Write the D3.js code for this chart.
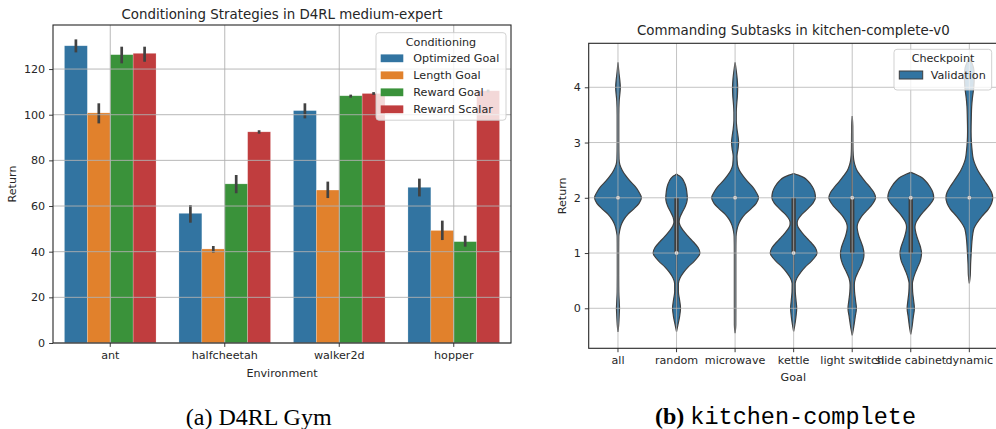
<!DOCTYPE html>
<html>
<head>
<meta charset="utf-8">
<script src="https://cdn.jsdelivr.net/npm/d3@7"></script>
<style>
  html, body { margin: 0; padding: 0; background: #fff; }
  svg { display: block; }
  text { font-family: "DejaVu Sans", sans-serif; fill: #262626; }
</style>
</head>
<body>
<svg id="fig" width="996" height="429"></svg>
<script>
// ---------------- data: panel (a) ----------------
const environments = ["ant", "halfcheetah", "walker2d", "hopper"];
const conditionings = ["Optimized Goal", "Length Goal", "Reward Goal", "Reward Scalar"];
const optimizedGoal     = [130.2, 56.8, 101.8, 68.2];
const optimizedGoalLow  = [127.3, 52.7, 98.4, 64.2];
const optimizedGoalHigh = [133.0, 60.4, 105.0, 72.0];
const lengthGoal        = [100.8, 41.2, 67.0, 49.3];
const lengthGoalLow     = [96.2, 39.6, 63.5, 45.1];
const lengthGoalHigh    = [105.0, 42.5, 70.7, 53.6];
const rewardGoal        = [126.3, 69.7, 108.3, 44.4];
const rewardGoalLow     = [122.5, 65.6, 107.5, 42.2];
const rewardGoalHigh    = [129.8, 73.6, 108.8, 47.0];
const rewardScalar      = [126.9, 92.5, 109.3, 110.5];
const rewardScalarLow   = [123.2, 91.7, 108.7, 109.8];
const rewardScalarHigh  = [129.8, 93.2, 109.9, 111.0];
const barYTicks = [0, 20, 40, 60, 80, 100, 120];

// ---------------- data: panel (b) ----------------
const goals = ["all", "random", "microwave", "kettle", "light switch", "slide cabinet", "dynamic"];
// violin outlines: [return value, relative half width]
const violinAll = [[-0.43,0],[-0.3,0.03],[-0.1,0.055],[0,0.065],[0.1,0.055],[0.3,0.035],[0.6,0.03],[1.0,0.03],[1.3,0.035],[1.4,0.07],[1.5,0.13],[1.6,0.24],[1.7,0.42],[1.8,0.68],[1.9,0.9],[2.0,1.0],[2.1,0.9],[2.2,0.74],[2.3,0.52],[2.4,0.33],[2.5,0.18],[2.6,0.08],[2.7,0.045],[3.0,0.035],[3.5,0.035],[3.75,0.05],[3.9,0.085],[4.0,0.1],[4.1,0.085],[4.25,0.045],[4.45,0]];
const violinRandom = [[-0.42,0],[-0.3,0.06],[-0.15,0.13],[0,0.17],[0.15,0.13],[0.3,0.08],[0.45,0.08],[0.55,0.15],[0.65,0.3],[0.75,0.5],[0.85,0.75],[0.95,0.95],[1.0,1.0],[1.1,0.92],[1.2,0.72],[1.3,0.5],[1.4,0.3],[1.5,0.15],[1.56,0.11],[1.65,0.15],[1.75,0.26],[1.85,0.38],[1.95,0.45],[2.0,0.46],[2.1,0.44],[2.2,0.4],[2.3,0.31],[2.37,0.2],[2.41,0.07],[2.43,0]];
const violinMicrowave = [[-0.45,0],[-0.3,0.03],[0,0.032],[0.5,0.032],[1.0,0.032],[1.3,0.04],[1.4,0.07],[1.5,0.13],[1.6,0.24],[1.7,0.42],[1.8,0.68],[1.9,0.9],[2.0,1.0],[2.1,0.9],[2.2,0.74],[2.3,0.52],[2.4,0.33],[2.5,0.18],[2.6,0.1],[2.75,0.08],[2.9,0.13],[3.0,0.15],[3.1,0.13],[3.25,0.08],[3.4,0.05],[3.55,0.05],[3.7,0.07],[3.85,0.1],[4.0,0.11],[4.15,0.09],[4.3,0.05],[4.45,0]];
const violinKettle = [[-0.42,0],[-0.3,0.05],[-0.15,0.1],[0,0.13],[0.15,0.1],[0.3,0.07],[0.45,0.065],[0.55,0.14],[0.65,0.3],[0.75,0.5],[0.85,0.75],[0.95,0.95],[1.0,1.0],[1.1,0.92],[1.2,0.72],[1.3,0.5],[1.4,0.3],[1.5,0.16],[1.55,0.15],[1.6,0.18],[1.7,0.35],[1.8,0.6],[1.9,0.82],[2.0,0.93],[2.1,0.9],[2.2,0.8],[2.3,0.62],[2.37,0.42],[2.41,0.2],[2.44,0]];
const violinLightSwitch = [[-0.49,0],[-0.35,0.06],[-0.15,0.13],[0,0.18],[0.15,0.14],[0.3,0.1],[0.42,0.09],[0.55,0.14],[0.65,0.24],[0.75,0.36],[0.85,0.45],[0.95,0.5],[1.0,0.5],[1.1,0.46],[1.2,0.38],[1.3,0.29],[1.4,0.23],[1.47,0.21],[1.55,0.25],[1.65,0.38],[1.75,0.58],[1.85,0.8],[1.95,0.96],[2.0,1.0],[2.1,0.92],[2.2,0.74],[2.3,0.54],[2.4,0.36],[2.5,0.2],[2.6,0.11],[2.7,0.06],[2.85,0.035],[3.0,0.03],[3.3,0.025],[3.48,0]];
const violinSlideCabinet = [[-0.47,0],[-0.35,0.05],[-0.15,0.11],[0,0.155],[0.15,0.12],[0.3,0.08],[0.45,0.07],[0.55,0.12],[0.65,0.2],[0.75,0.3],[0.85,0.4],[0.95,0.45],[1.0,0.46],[1.1,0.42],[1.2,0.34],[1.3,0.26],[1.4,0.2],[1.47,0.18],[1.55,0.22],[1.65,0.36],[1.75,0.55],[1.85,0.76],[1.95,0.94],[2.0,0.98],[2.1,0.94],[2.2,0.82],[2.3,0.64],[2.38,0.42],[2.43,0.18],[2.46,0]];
const violinDynamic = [[0.45,0],[0.6,0.04],[0.8,0.055],[1.0,0.08],[1.2,0.11],[1.35,0.15],[1.45,0.2],[1.54,0.32],[1.66,0.53],[1.8,0.82],[1.9,0.95],[2.0,1.0],[2.1,0.95],[2.2,0.82],[2.3,0.66],[2.4,0.5],[2.5,0.36],[2.6,0.25],[2.7,0.17],[2.85,0.12],[3.0,0.09],[3.2,0.075],[3.45,0.085],[3.65,0.1],[3.8,0.13],[4.0,0.19],[4.2,0.21],[4.35,0.18],[4.45,0.1],[4.53,0]];
// inner box: quartiles, median, whiskers
const goalQ1     = [2, 1, 2, 1, 1, 1, 2];
const goalMedian = [2, 1, 2, 1, 2, 2, 2];
const goalQ3     = [2, 2, 2, 2, 2, 2, 2];
const goalWhiskLow  = [2, 0, 2, 0, 0, 0, 2];
const goalWhiskHigh = [2, 2, 2, 2, 3, 2, 2];
const violinYTicks = [0, 1, 2, 3, 4];

// ---------------- style ----------------
const barColors = ["#3274a1", "#e1812c", "#3a923a", "#c03d3e"];
const violinColor = "#3274a1";
const gridColor = "#b0b0b0";
const spineColor = "#262626";
const FS = 11.15;

const svg = d3.select("#fig");

// ================= panel (a) =================
const A = { left: 53, right: 511, top: 25, bottom: 343 };
const xA = d3.scaleBand().domain(environments).range([A.left, A.right]).paddingInner(0).paddingOuter(0);
const xInner = d3.scaleBand().domain(conditionings).range([0, xA.bandwidth() * 0.8]);
const yA = d3.scaleLinear().domain([0, 139.3]).range([A.bottom, A.top]);

const seriesA = [
  { name: conditionings[0], mean: optimizedGoal, lo: optimizedGoalLow, hi: optimizedGoalHigh },
  { name: conditionings[1], mean: lengthGoal, lo: lengthGoalLow, hi: lengthGoalHigh },
  { name: conditionings[2], mean: rewardGoal, lo: rewardGoalLow, hi: rewardGoalHigh },
  { name: conditionings[3], mean: rewardScalar, lo: rewardScalarLow, hi: rewardScalarHigh },
];

const gA = svg.append("g");
seriesA.forEach((s, si) => {
  environments.forEach((env, ei) => {
    const x0 = xA(env) + xA.bandwidth() * 0.1 + xInner(s.name);
    gA.append("rect")
      .attr("x", x0).attr("width", xInner.bandwidth())
      .attr("y", yA(s.mean[ei])).attr("height", yA(0) - yA(s.mean[ei]))
      .attr("fill", barColors[si])
      .attr("stroke", "rgba(255,255,255,0.35)").attr("stroke-width", 0.6);
  });
});
seriesA.forEach((s) => {
  environments.forEach((env, ei) => {
    const cx = xA(env) + xA.bandwidth() * 0.1 + xInner(s.name) + xInner.bandwidth() / 2;
    gA.append("line")
      .attr("x1", cx).attr("x2", cx)
      .attr("y1", yA(s.lo[ei])).attr("y2", yA(s.hi[ei]))
      .attr("stroke", "#424242").attr("stroke-width", 2.7);
  });
});
// grid on top
const gridA = svg.append("g");
barYTicks.forEach(t => {
  gridA.append("line").attr("x1", A.left).attr("x2", A.right)
    .attr("y1", yA(t)).attr("y2", yA(t))
    .attr("stroke", gridColor).attr("stroke-width", 0.9);
});
environments.forEach(e => {
  const cx = xA(e) + xA.bandwidth() / 2;
  gridA.append("line").attr("x1", cx).attr("x2", cx)
    .attr("y1", A.top).attr("y2", A.bottom)
    .attr("stroke", gridColor).attr("stroke-width", 0.9);
});
// axes
const axLeftA = svg.append("g").attr("transform", `translate(${A.left},0)`)
  .call(d3.axisLeft(yA).tickValues(barYTicks).tickFormat(d3.format("d")).tickSize(3.9).tickPadding(3.9));
const axBotA = svg.append("g").attr("transform", `translate(0,${A.bottom})`)
  .call(d3.axisBottom(xA).tickSize(3.9).tickPadding(3.9));
[axLeftA, axBotA].forEach(ax => {
  ax.select(".domain").remove();
  ax.selectAll(".tick line").attr("stroke", spineColor).attr("stroke-width", 0.9);
  ax.selectAll(".tick text").style("font-family", "DejaVu Sans").style("font-size", FS + "px").attr("fill", "#262626");
});
svg.append("rect").attr("x", A.left).attr("y", A.top)
  .attr("width", A.right - A.left).attr("height", A.bottom - A.top)
  .attr("fill", "none").attr("stroke", spineColor).attr("stroke-width", 1.1);
// legend (a)
const legA = svg.append("g");
legA.append("rect").attr("x", 376).attr("y", 32.7).attr("width", 130).attr("height", 87.5)
  .attr("rx", 3).attr("fill", "white").attr("fill-opacity", 0.8)
  .attr("stroke", "#cccccc").attr("stroke-width", 0.9);
legA.append("text").attr("x", 441).attr("y", 41.7).attr("dy", "0.35em")
  .attr("text-anchor", "middle").style("font-size", FS + "px").text("Conditioning");
conditionings.forEach((c, i) => {
  const cy = 58.3 + i * 17;
  legA.append("rect").attr("x", 380.7).attr("y", cy - 3.9).attr("width", 22.6).attr("height", 7.8)
    .attr("fill", barColors[i]);
  legA.append("text").attr("x", 413.3).attr("y", cy).attr("dy", "0.35em")
    .style("font-size", FS + "px").text(c);
});
// titles & labels (a)
svg.append("text").attr("x", (A.left + A.right) / 2).attr("y", 14.7).attr("dy", "0.35em")
  .attr("text-anchor", "middle").style("font-size", "13.4px").text("Conditioning Strategies in D4RL medium-expert");
svg.append("text").attr("x", (A.left + A.right) / 2).attr("y", 372.7).attr("dy", "0.35em")
  .attr("text-anchor", "middle").style("font-size", FS + "px").text("Environment");
svg.append("text").attr("transform", `translate(12.5,${(A.top + A.bottom) / 2}) rotate(-90)`)
  .attr("dy", "0.35em").attr("text-anchor", "middle").style("font-size", FS + "px").text("Return");

// ================= panel (b) =================
const B = { left: 588.7, right: 998.6, top: 43.3, bottom: 348.3 };
const xB = d3.scaleBand().domain(goals).range([B.left, B.right]);
const yB = d3.scaleLinear().domain([-0.724, 4.796]).range([B.bottom, B.top]);
const violins = [violinAll, violinRandom, violinMicrowave, violinKettle, violinLightSwitch, violinSlideCabinet, violinDynamic];
const halfMax = xB.bandwidth() * 0.4;

const gB = svg.append("g");
violins.forEach((prof, i) => {
  const cx = xB(goals[i]) + xB.bandwidth() / 2;
  const area = d3.area()
    .y(d => yB(d[0]))
    .x0(d => cx - halfMax * d[1])
    .x1(d => cx + halfMax * d[1])
    .curve(d3.curveMonotoneY);
  gB.append("path").attr("d", area(prof))
    .attr("fill", violinColor).attr("stroke", "#3f3f3f").attr("stroke-width", 1.2);
  if (goalWhiskHigh[i] > goalWhiskLow[i]) {
    gB.append("line").attr("x1", cx).attr("x2", cx)
      .attr("y1", yB(goalWhiskLow[i])).attr("y2", yB(goalWhiskHigh[i]))
      .attr("stroke", "#3f3f3f").attr("stroke-width", 1.4);
  }
  if (goalQ3[i] > goalQ1[i]) {
    gB.append("line").attr("x1", cx).attr("x2", cx)
      .attr("y1", yB(goalQ1[i])).attr("y2", yB(goalQ3[i]))
      .attr("stroke", "#3f3f3f").attr("stroke-width", 4.4);
  }
  gB.append("circle").attr("cx", cx).attr("cy", yB(goalMedian[i])).attr("r", 2)
    .attr("fill", "white").attr("stroke", "#3f3f3f").attr("stroke-width", 0.3);
});
const gridB = svg.append("g");
violinYTicks.forEach(t => {
  gridB.append("line").attr("x1", B.left).attr("x2", B.right)
    .attr("y1", yB(t)).attr("y2", yB(t))
    .attr("stroke", gridColor).attr("stroke-width", 0.9).attr("stroke-opacity", 0.85);
});
goals.forEach(g => {
  const cx = xB(g) + xB.bandwidth() / 2;
  gridB.append("line").attr("x1", cx).attr("x2", cx)
    .attr("y1", B.top).attr("y2", B.bottom)
    .attr("stroke", gridColor).attr("stroke-width", 0.9).attr("stroke-opacity", 0.85);
});
const axLeftB = svg.append("g").attr("transform", `translate(${B.left},0)`)
  .call(d3.axisLeft(yB).tickValues(violinYTicks).tickFormat(d3.format("d")).tickSize(3.9).tickPadding(3.9));
const axBotB = svg.append("g").attr("transform", `translate(0,${B.bottom})`)
  .call(d3.axisBottom(xB).tickSize(3.9).tickPadding(3.9));
[axLeftB, axBotB].forEach(ax => {
  ax.select(".domain").remove();
  ax.selectAll(".tick line").attr("stroke", spineColor).attr("stroke-width", 0.9);
  ax.selectAll(".tick text").style("font-family", "DejaVu Sans").style("font-size", FS + "px").attr("fill", "#262626");
});
svg.append("rect").attr("x", B.left).attr("y", B.top)
  .attr("width", B.right - B.left).attr("height", B.bottom - B.top)
  .attr("fill", "none").attr("stroke", spineColor).attr("stroke-width", 1.1);
// legend (b)
const legB = svg.append("g");
legB.append("rect").attr("x", 894).attr("y", 49.3).attr("width", 97.7).attr("height", 40.7)
  .attr("rx", 3).attr("fill", "white").attr("fill-opacity", 0.8)
  .attr("stroke", "#cccccc").attr("stroke-width", 0.9);
legB.append("text").attr("x", 943).attr("y", 58).attr("dy", "0.35em")
  .attr("text-anchor", "middle").style("font-size", FS + "px").text("Checkpoint");
legB.append("rect").attr("x", 899.3).attr("y", 71).attr("width", 23.4).attr("height", 8)
  .attr("fill", violinColor).attr("stroke", "#3f3f3f").attr("stroke-width", 1);
legB.append("text").attr("x", 930.7).attr("y", 75).attr("dy", "0.35em")
  .style("font-size", FS + "px").text("Validation");
svg.append("text").attr("x", 793.3).attr("y", 30.7).attr("dy", "0.35em")
  .attr("text-anchor", "middle").style("font-size", "13.4px").text("Commanding Subtasks in kitchen-complete-v0");
svg.append("text").attr("x", 793.3).attr("y", 376.7).attr("dy", "0.35em")
  .attr("text-anchor", "middle").style("font-size", FS + "px").text("Goal");
svg.append("text").attr("transform", `translate(561.7,${(B.top + B.bottom) / 2}) rotate(-90)`)
  .attr("dy", "0.35em").attr("text-anchor", "middle").style("font-size", FS + "px").text("Return");

// ================= captions =================
svg.append("text").attr("x", 258.7).attr("y", 425).attr("text-anchor", "middle")
  .style("font-family", "'Liberation Serif', 'Times New Roman', serif").style("font-size", "24px")
  .style("fill", "#000").text("(a) D4RL Gym");
const capB = svg.append("text").attr("x", 655).attr("y", 424).attr("text-anchor", "start")
  .style("font-family", "'Liberation Serif', 'Times New Roman', serif").style("font-size", "24px")
  .style("fill", "#000");
capB.append("tspan").style("font-weight", "bold").text("(b) ");
capB.append("tspan").style("font-family", "'Liberation Mono', 'Courier New', monospace")
  .style("font-size", "23.5px").text("kitchen-complete");
</script>
</body>
</html>
